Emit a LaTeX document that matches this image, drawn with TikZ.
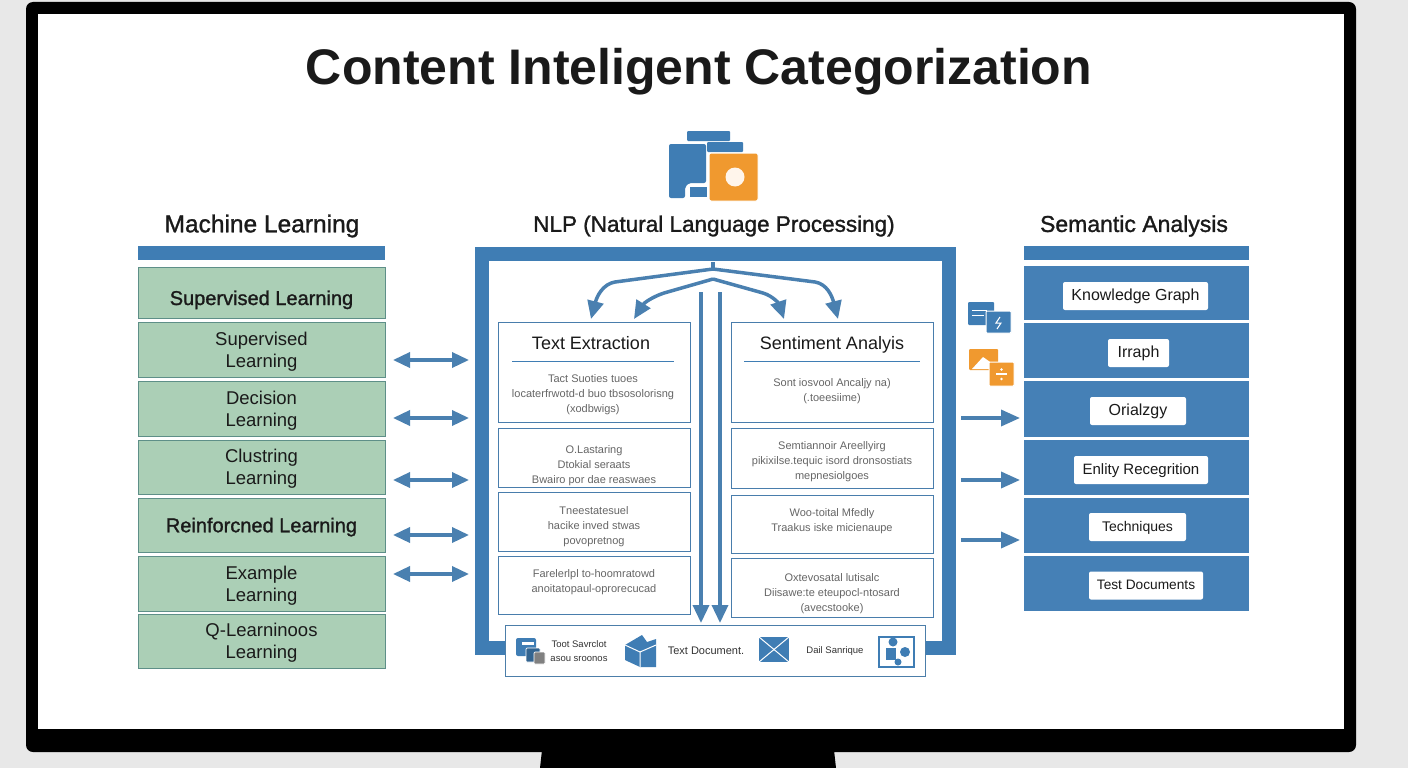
\documentclass[tikz,border=0pt]{standalone}
\usepackage{fontspec}
\setmainfont{Liberation Sans}
\newfontfamily\midfont[FakeBold=1.2]{Liberation Sans}
\usetikzlibrary{arrows.meta}

\definecolor{mlgreen}{HTML}{ABCFB6}
\definecolor{mlborder}{HTML}{5E8F88}
\definecolor{nlpblue}{HTML}{3F7DB4}
\definecolor{rowblue}{HTML}{4580B6}
\definecolor{linkblue}{HTML}{4A80B0}
\definecolor{iconorange}{HTML}{F0992F}
\definecolor{wallgray}{HTML}{E8E8E8}
\definecolor{inktext}{HTML}{1A1A1A}
\definecolor{softtext}{HTML}{666666}

\tikzset{
  head/.style={font=\midfont\fontsize{22.5}{26}\selectfont, text=inktext, inner sep=0pt},
  topbar/.style={rectangle, fill=nlpblue, draw=none, minimum height=14pt, inner sep=0pt},
  mlbox/.style={rectangle, fill=mlgreen, draw=mlborder, line width=1pt, minimum width=247pt, inner sep=0pt, outer sep=0pt, align=center, text=inktext, text depth=0pt, font=\fontsize{18.5}{22}\selectfont},
  mlbig/.style={mlbox, font=\midfont\fontsize{20}{24}\selectfont},
  rowbox/.style={rectangle, fill=rowblue, draw=none, minimum width=225pt, inner sep=0pt},
  tagbox/.style={rectangle, rounded corners=2pt, fill=white, draw=none, minimum height=28pt, inner sep=0pt, text=inktext, text height=11pt, text depth=3pt, font=\fontsize{16}{20}\selectfont},
  stepbox/.style={rectangle, fill=white, draw=nlpblue!85!gray, line width=1pt, inner sep=0pt, outer sep=0pt, align=center, text=softtext, font=\fontsize{11}{15}\selectfont},
  steptitle/.style={inner sep=0pt, text=inktext, font=\fontsize{18}{22}\selectfont},
  steptext/.style={inner sep=0pt, align=center, text=softtext, font=\fontsize{11}{15}\selectfont},
  striptext/.style={inner sep=0pt, align=center, text=black!80, font=\fontsize{9.5}{14}\selectfont},
  twoway/.style={{Triangle[width=15pt,length=17pt]}-{Triangle[width=15pt,length=17pt]}, draw=linkblue, line width=3.5pt},
  oneway/.style={-{Triangle[width=16pt,length=19pt]}, draw=linkblue, line width=3.5pt},
  flowway/.style={-{Triangle[width=16pt,length=18pt]}, draw=linkblue, line width=3.5pt},
}

\begin{document}
\begin{tikzpicture}[x=1pt,y=-1pt]
        \useasboundingbox (0,0) rectangle (1408,768);
        % monitor
        \fill[wallgray] (0,0) rectangle (1408,768);
        \fill[black] (542,750) -- (834,750) -- (836,768) -- (540,768) -- cycle;
        \fill[black, rounded corners=7pt] (26,2) rectangle (1356,752);
        \fill[white] (38,14) rectangle (1344,729);

        \node[inner sep=0pt, text=inktext, font=\bfseries\fontsize{50}{54}\selectfont] (title) at(699,72){Content Inteligent Categorization};

        % top icon
        \fill[nlpblue, rounded corners=1pt] (687,131) rectangle (730,141);
        \fill[nlpblue, rounded corners=1pt] (707,142) rectangle (743,152);
        \fill[nlpblue, rounded corners=2pt] (669,144) -- (706,144) -- (706,183) -- (689,183) -- (685,187) -- (685,198) -- (669,198) -- cycle;
        \fill[nlpblue] (690,187) rectangle (707,197);
        \fill[iconorange, draw=white, line width=1pt, rounded corners=2pt] (709,153) rectangle (758,201);
        \fill[white!92!orange] (735,177) circle (9.5);

        % machine learning
        \node[head, font=\midfont\fontsize{24.5}{28}\selectfont] (ml-head) at(262,226){Machine Learning};
        \node[topbar, minimum width=247pt] (ml-bar) at(261.5,253){};
        \node[mlbig, minimum height=51pt, text height=25pt] (ml-1) at(261.5,292.5){Supervised Learning};
        \node[mlbox, minimum height=55pt] (ml-2) at(261.5,349.5){Supervised\\Learning};
        \node[mlbox, minimum height=55pt] (ml-3) at(261.5,408.5){Decision\\Learning};
        \node[mlbox, minimum height=54pt] (ml-4) at(261.5,467){Clustring\\Learning};
        \node[mlbig, minimum height=54pt] (ml-5) at(261.5,525){Reinforcned Learning};
        \node[mlbox, minimum height=55pt] (ml-6) at(261.5,583.5){Example\\Learning};
        \node[mlbox, minimum height=54pt] (ml-7) at(261.5,641){Q-Learninoos\\Learning};

        % nlp frame
        \node[head] (nlp-head) at(714,226){NLP (Natural Language Processing)};
        \node[rectangle, draw=nlpblue, fill=white, line width=14pt, minimum width=467pt, minimum height=394pt, inner sep=0pt, outer sep=0pt] (nlp-frame) at(715.5,451){};

        \node[stepbox, minimum width=192pt, minimum height=100pt] (te-1) at(594,372){};
        \node[steptitle] (te-title) at(591,343){Text Extraction};
        \coordinate (te-rule-l) at(512,361);
        \coordinate (te-rule-r) at(674,361);
        \draw[nlpblue, line width=0.8pt] (te-rule-l) -- (te-rule-r);
        \node[steptext] (te-text) at(593,395){Tact Suoties tuoes\\locaterfrwotd-d buo tbsosolorisng\\(xodbwigs)};
        \node[stepbox, minimum width=192pt, minimum height=59pt, text height=54pt] (te-2) at(594,457.5){O.Lastaring\\Dtokial seraats\\Bwairo por dae reaswaes};
        \node[stepbox, minimum width=192pt, minimum height=59pt, text height=48pt] (te-3) at(594,521.5){Tneestatesuel\\hacike inved stwas\\povopretnog};
        \node[stepbox, minimum width=192pt, minimum height=58pt, text depth=8pt] (te-4) at(594,585){Farelerlpl to-hoomratowd\\anoitatopaul-oprorecucad};

        \node[stepbox, minimum width=202pt, minimum height=100pt] (sa-1) at(832,372){};
        \node[steptitle] (sa-title) at(832,345){Sentiment Analyis};
        \coordinate (sa-rule-l) at(744,361);
        \coordinate (sa-rule-r) at(920,361);
        \draw[nlpblue, line width=0.8pt] (sa-rule-l) -- (sa-rule-r);
        \node[steptext] (sa-text) at(832,391){Sont iosvool Ancaljy na)\\(.toeesiime)};
        \node[stepbox, minimum width=202pt, minimum height=60pt, text height=46pt] (sa-2) at(832,458){Semtiannoir Areellyirg\\pikixilse.tequic isord dronsostiats\\mepnesiolgoes};
        \node[stepbox, minimum width=202pt, minimum height=58pt, text depth=7pt] (sa-3) at(832,524){Woo-toital Mfedly\\Traakus iske micienaupe};
        \node[stepbox, minimum width=202pt, minimum height=59pt, text height=50pt] (sa-4) at(832,587.5){Oxtevosatal lutisalc\\Diisawe:te eteupocl-ntosard\\(avecstooke)};

        % arrows from the top of the frame
        \coordinate (nlp-top) at(713,262);
        \coordinate (nlp-fork) at(713,269);
        \coordinate (nlp-fork-b) at(713,279);
        \coordinate (te-in-a) at(591,319);
        \coordinate (te-in-b) at(634,319);
        \coordinate (sa-in-a) at(784,319);
        \coordinate (sa-in-b) at(838,319);
        \draw[draw=linkblue, line width=3.5pt] (nlp-top) -- (nlp-fork);
        \draw[flowway] (nlp-fork) -- (615,282) .. controls (603,284) and (597,296) .. (te-in-a);
        \draw[flowway] (nlp-fork) -- (815,282) .. controls (827,284) and (832,296) .. (sa-in-b);
        \draw[flowway] (nlp-fork-b) -- (664,293) .. controls (652,297) and (644,303) .. (te-in-b);
        \draw[flowway] (nlp-fork-b) -- (763,293) .. controls (773,296) and (779,304) .. (sa-in-a);

        % two lines down to the strip
        \coordinate (down-a-top) at(701,292);
        \coordinate (down-b-top) at(720,292);
        \coordinate (down-a-end) at(701,623);
        \coordinate (down-b-end) at(720,623);
        \draw[flowway] (down-a-top) -- (down-a-end);
        \draw[flowway] (down-b-top) -- (down-b-end);

        % strip
        \node[rectangle, fill=white, draw=nlpblue!80!gray, line width=1pt, minimum width=420pt, minimum height=51pt, inner sep=0pt, outer sep=0pt] (strip) at(715,650.5){};
        \fill[nlpblue, rounded corners=2pt] (516,638) rectangle (536,656);
        \fill[white] (522,642) rectangle (534,645);
        \fill[nlpblue!80!black, draw=white, line width=0.7pt, rounded corners=1pt] (526,648) rectangle (540,662);
        \fill[gray, draw=white, line width=0.7pt, rounded corners=1pt] (534,652) rectangle (545,664);
        \node[striptext] (strip-a) at(579,651){Toot Savrclot\\asou sroonos};
        \fill[nlpblue] (625,645) -- (642,635) -- (647,642) -- (656,639) -- (656,667) -- (640,667) -- (625,660) -- cycle;
        \draw[white, line width=1pt] (625,645) -- (640,652) -- (640,667);
        \draw[white, line width=1pt] (640,652) -- (656,645);
        \node[striptext, font=\fontsize{11}{14}\selectfont] (strip-b) at(706,651){Text Document.};
        \fill[nlpblue] (759,637) rectangle (789,662);
        \draw[white, line width=1pt] (759,637) -- (789,662);
        \draw[white, line width=1pt] (789,637) -- (759,662);
        \node[striptext] (strip-c) at(835,651){Dail Sanrique};
        \fill[white, draw=nlpblue, line width=2pt] (879,637) rectangle (914,667);
        \fill[nlpblue] (886,648) rectangle (896,660);
        \fill[nlpblue] (893,642) circle (4.5);
        \fill[nlpblue] (905,652) circle (5);
        \fill[nlpblue] (898,662) circle (3.5);

        % two way links
        \coordinate (ml-link-a) at(393,360);
        \coordinate (nlp-link-a) at(469,360);
        \coordinate (ml-link-b) at(393,418);
        \coordinate (nlp-link-b) at(469,418);
        \coordinate (ml-link-c) at(393,480);
        \coordinate (nlp-link-c) at(469,480);
        \coordinate (ml-link-d) at(393,535);
        \coordinate (nlp-link-d) at(469,535);
        \coordinate (ml-link-e) at(393,574);
        \coordinate (nlp-link-e) at(469,574);
        \draw[twoway] (ml-link-a) -- (nlp-link-a);
        \draw[twoway] (ml-link-b) -- (nlp-link-b);
        \draw[twoway] (ml-link-c) -- (nlp-link-c);
        \draw[twoway] (ml-link-d) -- (nlp-link-d);
        \draw[twoway] (ml-link-e) -- (nlp-link-e);

        % semantic analysis
        \node[head, font=\midfont\fontsize{23}{27}\selectfont] (sem-head) at(1134,226){Semantic Analysis};
        \node[topbar, minimum width=225pt] (sem-bar) at(1136.5,253){};
        \node[rowbox, minimum height=54pt] (sem-1) at(1136.5,293){};
        \node[rowbox, minimum height=55pt] (sem-2) at(1136.5,350.5){};
        \node[rowbox, minimum height=56pt] (sem-3) at(1136.5,409){};
        \node[rowbox, minimum height=55pt] (sem-4) at(1136.5,467.5){};
        \node[rowbox, minimum height=55pt] (sem-5) at(1136.5,525.5){};
        \node[rowbox, minimum height=55pt] (sem-6) at(1136.5,583.5){};
        \node[tagbox, minimum width=145pt] (tag-1) at(1135.5,296){Knowledge Graph};
        \node[tagbox, minimum width=61pt] (tag-2) at(1138.5,353){Irraph};
        \node[tagbox, minimum width=96pt] (tag-3) at(1138,411){Orialzgy};
        \node[tagbox, minimum width=134pt, font=\fontsize{15}{18}\selectfont] (tag-4) at(1141,470){Enlity Recegrition};
        \node[tagbox, minimum width=97pt, font=\fontsize{14}{18}\selectfont] (tag-5) at(1137.5,527){Techniques};
        \node[tagbox, minimum width=114pt, font=\fontsize{13.7}{18}\selectfont] (tag-6) at(1146,585.5){Test Documents};

        % side icons
        \fill[nlpblue, rounded corners=1pt] (968,302) rectangle (994,325);
        \draw[white, line width=0.8pt] (972,310) -- (987,310);
        \draw[white, line width=0.8pt] (972,315) -- (984,315);
        \fill[nlpblue, draw=white, line width=1pt, rounded corners=1pt] (986,311) rectangle (1011,333);
        \draw[white, line width=1pt] (1000,317) -- (996,323) -- (1001,323) -- (997,329);
        \fill[iconorange, rounded corners=1pt] (969,349) rectangle (998,370);
        \fill[white] (972,369) -- (983,357) -- (993,364) -- (995,369) -- cycle;
        \fill[iconorange, draw=white, line width=1pt, rounded corners=1pt] (989,362) rectangle (1014,386);
        \draw[white, line width=1.2pt] (996,374) -- (1007,374);
        \fill[white] (1001.5,369.5) circle (1.3);
        \fill[white] (1001.5,379) circle (1.3);

        % one way links
        \coordinate (nlp-out-a) at(961,418);
        \coordinate (sem-in-a) at(1020,418);
        \coordinate (nlp-out-b) at(961,480);
        \coordinate (sem-in-b) at(1020,480);
        \coordinate (nlp-out-c) at(961,540);
        \coordinate (sem-in-c) at(1020,540);
        \draw[oneway] (nlp-out-a) -- (sem-in-a);
        \draw[oneway] (nlp-out-b) -- (sem-in-b);
        \draw[oneway] (nlp-out-c) -- (sem-in-c);

      \end{tikzpicture}
\end{document}
